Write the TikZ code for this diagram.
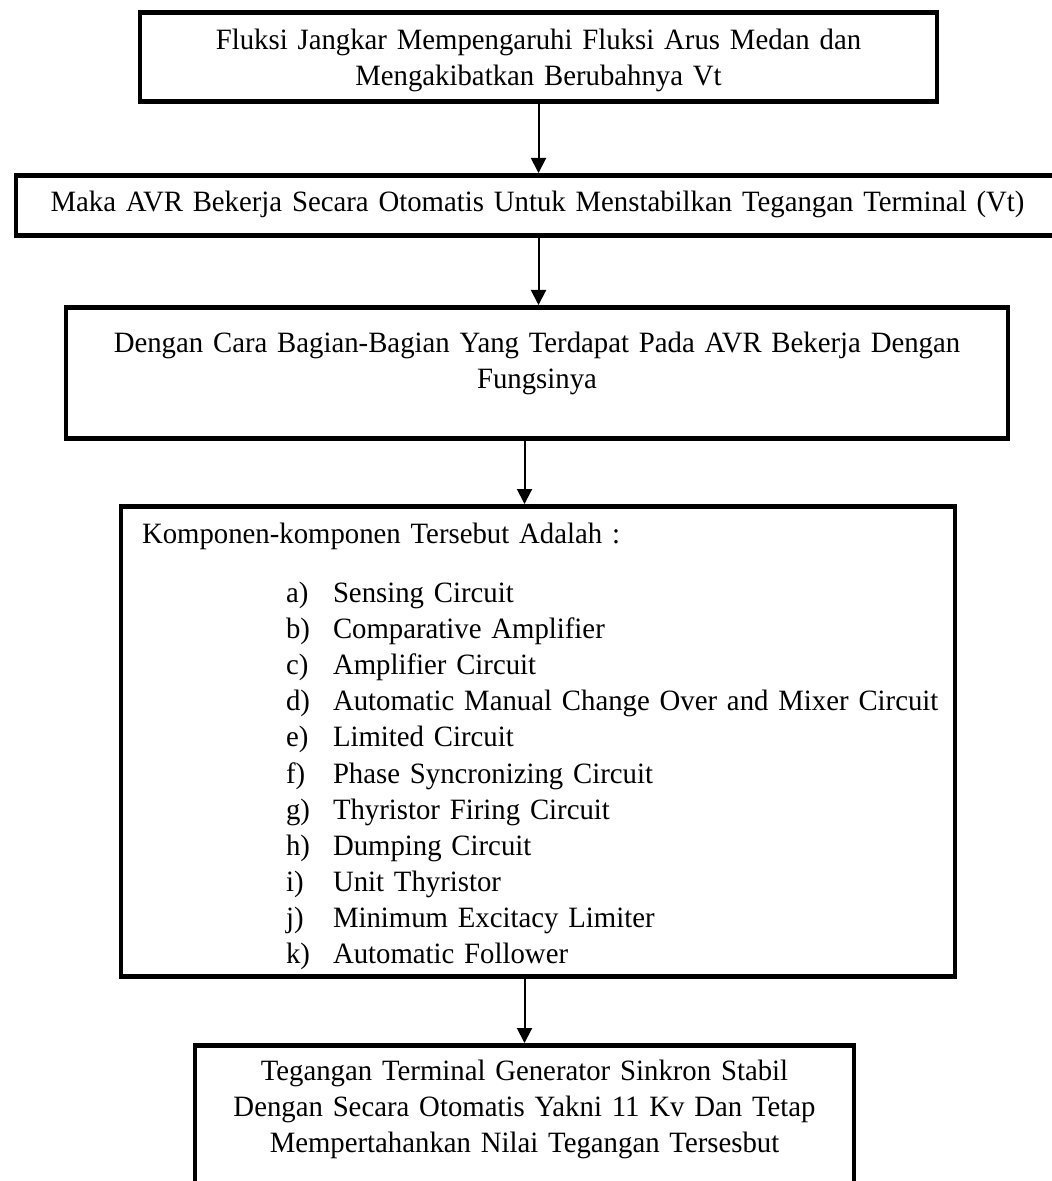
\documentclass[tikz,border=0pt]{standalone}
\usepackage{fontspec}
\setmainfont{Liberation Serif}[FakeStretch=0.975]
\usepackage{tikz}
\usetikzlibrary{arrows.meta,positioning}
\newcommand{\avritem}[2]{\mbox{\hspace*{72pt}\makebox[23.5pt][l]{#1}#2}}

\begin{document}
\begin{tikzpicture}[
  x=0.5pt, y=-0.5pt,
  font=\fontsize{14.75pt}{18.05pt}\selectfont,
  box/.style={draw=black, line width=2.4pt, inner sep=0pt, anchor=north, align=center},
  arrow/.style={-{Triangle[length=7.5pt, width=7.5pt]}, line width=1pt, draw=black}
]
\useasboundingbox (0,0) rectangle (1052,1181);

\node[box, text width=398.5pt, text height=18.5pt, text depth=26pt] (fluks) at (538.5,10)
  {Fluksi Jangkar Mempengaruhi Fluksi Arus Medan dan\\Mengakibatkan Berubahnya Vt};
\node[box, text width=521.5pt, text height=18pt, text depth=12pt] (avr) at (537.5,173)
  {Maka AVR Bekerja Secara Otomatis Untuk Menstabilkan Tegangan Terminal (Vt)};
\node[box, text width=471pt, text height=22.5pt, text depth=43pt] (cara) at (537,305)
  {Dengan Cara Bagian-Bagian Yang Terdapat Pada AVR Bekerja Dengan\\Fungsinya};
\node[box, align=left, inner xsep=10.5pt, text width=396pt, text height=18.5pt, text depth=216.5pt] (komp) at (538,504)
  {Komponen-komponen Tersebut Adalah :\\[11.5pt]
   \avritem{a)}{Sensing Circuit}\\
   \avritem{b)}{Comparative Amplifier}\\
   \avritem{c)}{Amplifier Circuit}\\
   \avritem{d)}{Automatic Manual Change Over and Mixer Circuit}\\
   \avritem{e)}{Limited Circuit}\\
   \avritem{f)}{Phase Syncronizing Circuit}\\
   \avritem{g)}{Thyristor Firing Circuit}\\
   \avritem{h)}{Dumping Circuit}\\
   \avritem{i)}{Unit Thyristor}\\
   \avritem{j)}{Minimum Excitacy Limiter}\\
   \avritem{k)}{Automatic Follower}};
\node[box, text width=329.5pt, text height=17.5pt, text depth=60pt] (stabil) at (524.5,1043)
  {Tegangan Terminal Generator Sinkron Stabil\\Dengan Secara Otomatis Yakni 11 Kv Dan Tetap\\Mempertahankan Nilai Tegangan Tersesbut};

\draw[arrow] (fluks.south) -- (fluks.south |- avr.north);
\draw[arrow] (fluks.south |- avr.south) -- (fluks.south |- cara.north);
\draw[arrow] (stabil.north |- cara.south) -- (stabil.north |- komp.north);
\draw[arrow] (stabil.north |- komp.south) -- (stabil.north);

\end{tikzpicture}
\end{document}
